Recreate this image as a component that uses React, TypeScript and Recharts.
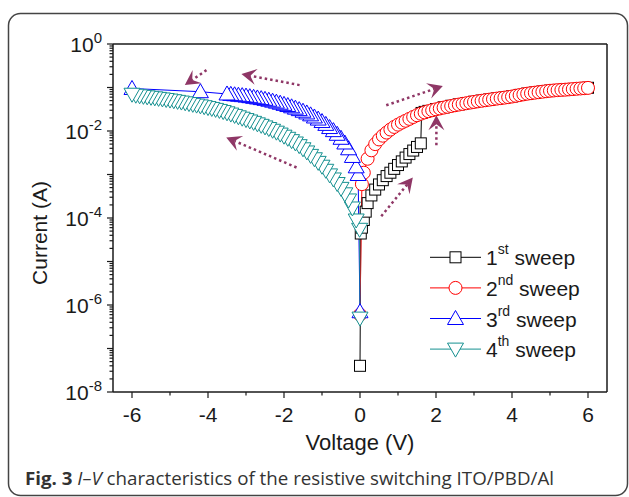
import React from "react";
import { LineChart, Line, XAxis, YAxis, ReferenceLine } from "recharts";

type Pt = [number, number];

// [voltage (V), current (A)]
const sweep1: Pt[] = [
  [0, 4e-8], [0.02, 4.4e-5], [0.05, 6e-5], [0.1, 9e-5], [0.15, 1.4e-4],
  [0.2, 2.2e-4], [0.3, 3.3e-4], [0.4, 4.5e-4], [0.5, 5.9e-4], [0.6, 7.4e-4],
  [0.7, 9.2e-4], [0.8, 1.1e-3], [0.9, 1.35e-3], [1.0, 1.65e-3], [1.1, 2.0e-3],
  [1.2, 2.45e-3], [1.3, 2.95e-3], [1.4, 3.55e-3], [1.5, 4.3e-3], [1.6, 5.2e-3],
  [1.62, 2.6e-2], [1.7, 2.75e-2], [1.8, 2.9e-2], [2.0, 3.2e-2], [2.2, 3.5e-2],
  [2.4, 3.8e-2], [2.6, 4.1e-2], [2.8, 4.4e-2], [3.0, 4.7e-2], [3.2, 5.0e-2],
  [3.4, 5.3e-2], [3.6, 5.6e-2], [3.8, 5.9e-2], [4.0, 6.25e-2], [4.2, 6.75e-2],
  [4.4, 7.25e-2], [4.6, 7.65e-2], [4.8, 8.05e-2], [5.0, 8.45e-2], [5.2, 8.75e-2],
  [5.4, 8.95e-2], [5.6, 9.25e-2], [5.8, 9.55e-2], [6.0, 9.85e-2],
];

const sweep2: Pt[] = [
  [0, 6e-7], [0.05, 6e-4], [0.1, 1.1e-3], [0.2, 2.3e-3], [0.3, 3.6e-3],
  [0.4, 5.0e-3], [0.5, 6.4e-3], [0.6, 7.8e-3], [0.7, 9.2e-3], [0.8, 1.08e-2],
  [0.9, 1.24e-2], [1.0, 1.4e-2], [1.1, 1.56e-2], [1.2, 1.72e-2], [1.3, 1.9e-2],
  [1.4, 2.1e-2], [1.5, 2.3e-2], [1.6, 2.5e-2], [1.7, 2.68e-2], [1.8, 2.85e-2],
  [1.9, 3.0e-2], [2.0, 3.15e-2], [2.1, 3.3e-2], [2.2, 3.45e-2], [2.3, 3.6e-2],
  [2.4, 3.75e-2], [2.5, 3.9e-2], [2.6, 4.05e-2], [2.7, 4.2e-2], [2.8, 4.35e-2],
  [2.9, 4.5e-2], [3.0, 4.65e-2], [3.1, 4.8e-2], [3.2, 4.95e-2], [3.3, 5.1e-2],
  [3.4, 5.25e-2], [3.5, 5.4e-2], [3.6, 5.55e-2], [3.7, 5.7e-2], [3.8, 5.85e-2],
  [3.9, 6.0e-2], [4.0, 6.2e-2], [4.1, 6.45e-2], [4.2, 6.7e-2], [4.3, 6.95e-2],
  [4.4, 7.2e-2], [4.5, 7.4e-2], [4.6, 7.6e-2], [4.7, 7.8e-2], [4.8, 8.0e-2],
  [4.9, 8.2e-2], [5.0, 8.4e-2], [5.1, 8.55e-2], [5.2, 8.7e-2], [5.3, 8.8e-2],
  [5.4, 8.9e-2], [5.5, 9.05e-2], [5.6, 9.2e-2], [5.7, 9.35e-2], [5.8, 9.5e-2],
  [5.9, 9.65e-2], [6.0, 9.8e-2],
];

const sweep3: Pt[] = [
  [0, 7e-7], [-0.05, 1.0e-3], [-0.1, 1.5e-3], [-0.2, 2.6e-3], [-0.3, 3.9e-3],
  [-0.4, 5.3e-3], [-0.5, 6.8e-3], [-0.6, 8.4e-3], [-0.7, 1.02e-2], [-0.8, 1.2e-2],
  [-0.9, 1.42e-2], [-1.0, 1.65e-2], [-1.1, 1.88e-2], [-1.2, 2.1e-2], [-1.3, 2.35e-2],
  [-1.4, 2.6e-2], [-1.5, 2.85e-2], [-1.6, 3.1e-2], [-1.7, 3.35e-2], [-1.8, 3.6e-2],
  [-1.9, 3.85e-2], [-2.0, 4.1e-2], [-2.1, 4.35e-2], [-2.2, 4.6e-2], [-2.3, 4.85e-2],
  [-2.4, 5.1e-2], [-2.5, 5.35e-2], [-2.6, 5.55e-2], [-2.7, 5.75e-2], [-2.8, 5.95e-2],
  [-2.9, 6.15e-2], [-3.0, 6.35e-2], [-3.1, 6.5e-2], [-3.2, 6.65e-2], [-3.3, 6.8e-2],
  [-3.4, 6.95e-2], [-3.5, 7.1e-2], [-4.2, 8.0e-2], [-6.0, 9.5e-2],
];

const sweep4: Pt[] = [
  [0, 5e-7], [-0.01, 5.5e-5], [-0.1, 9e-5], [-0.2, 1.7e-4], [-0.3, 2.6e-4],
  [-0.4, 3.6e-4], [-0.5, 4.8e-4], [-0.6, 6.2e-4], [-0.7, 7.9e-4], [-0.8, 9.8e-4],
  [-0.9, 1.25e-3], [-1.0, 1.55e-3], [-1.1, 1.9e-3], [-1.2, 2.3e-3], [-1.3, 2.75e-3],
  [-1.4, 3.3e-3], [-1.5, 3.9e-3], [-1.6, 4.6e-3], [-1.7, 5.3e-3], [-1.8, 6.0e-3],
  [-1.9, 6.8e-3], [-2.0, 7.6e-3], [-2.1, 8.5e-3], [-2.2, 9.4e-3], [-2.3, 1.04e-2],
  [-2.4, 1.14e-2], [-2.5, 1.24e-2], [-2.6, 1.35e-2], [-2.7, 1.46e-2], [-2.8, 1.58e-2],
  [-2.9, 1.7e-2], [-3.0, 1.83e-2], [-3.1, 1.97e-2], [-3.2, 2.12e-2], [-3.3, 2.28e-2],
  [-3.4, 2.45e-2], [-3.5, 2.62e-2], [-3.6, 2.8e-2], [-3.7, 2.97e-2], [-3.8, 3.14e-2],
  [-3.9, 3.3e-2], [-4.0, 3.46e-2], [-4.1, 3.62e-2], [-4.2, 3.78e-2], [-4.3, 3.94e-2],
  [-4.4, 4.1e-2], [-4.5, 4.27e-2], [-4.6, 4.45e-2], [-4.7, 4.63e-2], [-4.8, 4.8e-2],
  [-4.9, 4.97e-2], [-5.0, 5.14e-2], [-5.1, 5.3e-2], [-5.2, 5.46e-2], [-5.3, 5.62e-2],
  [-5.4, 5.78e-2], [-5.5, 5.94e-2], [-5.6, 6.1e-2], [-5.7, 6.26e-2], [-5.8, 6.45e-2],
  [-5.9, 6.65e-2], [-6.0, 7.0e-2],
];

// dotted direction arrows, [V, A] from -> to
const arrows: { from: Pt; to: Pt }[] = [
  { from: [-4.04, 0.251], to: [-4.61, 0.1135] },
  { from: [-1.59, 0.1135], to: [-3.12, 0.204] },
  { from: [-1.67, 1.45e-3], to: [-3.52, 7.1e-3] },
  { from: [0.69, 0.039], to: [2.18, 0.108] },
  { from: [2.01, 4.7e-3], to: [2.01, 0.023] },
  { from: [0.56, 1.1e-4], to: [1.39, 8.5e-4] },
];

const sweeps = [
  { key: "s1", num: "1", sup: "st", color: "#000000", marker: "square", data: sweep1 },
  { key: "s2", num: "2", sup: "nd", color: "#ff0000", marker: "circle", data: sweep2 },
  { key: "s3", num: "3", sup: "rd", color: "#0000ff", marker: "up", data: sweep3 },
  { key: "s4", num: "4", sup: "th", color: "#159090", marker: "down", data: sweep4 },
];

const xTicks = [-6, -5, -4, -3, -2, -1, 0, 1, 2, 3, 4, 5, 6];
const xTickLabels = [-6, -4, -2, 0, 2, 4, 6];
const yDecades = [-8, -7, -6, -5, -4, -3, -2, -1, 0];
const yTickLabels = [-8, -6, -4, -2, 0];

const yTicks: number[] = [];
yDecades.forEach((d) => {
  yTicks.push(Math.pow(10, d));
  if (d < 0) for (let m = 2; m <= 9; m++) yTicks.push(m * Math.pow(10, d));
});

const FONT = "'Liberation Sans', Arial, Helvetica, sans-serif";
const AXIS = "#1a1a1a";
const ARROW = "#8f3766";

function Marker({ kind, cx, cy, color }: { kind: string; cx: number; cy: number; color: string }) {
  const common = { fill: "#ffffff", stroke: color, strokeWidth: 1 };
  if (kind === "square") return <rect x={cx - 5.5} y={cy - 5.5} width={11} height={11} {...common} />;
  if (kind === "circle") return <circle cx={cx} cy={cy} r={6.5} {...common} />;
  if (kind === "up")
    return <polygon points={`${cx},${cy - 8} ${cx + 8},${cy + 6} ${cx - 8},${cy + 6}`} {...common} />;
  return <polygon points={`${cx - 8},${cy - 6} ${cx + 8},${cy - 6} ${cx},${cy + 8}`} {...common} />;
}

const YTick = (props: any) => {
  const { x, y, payload } = props;
  const lg = Math.log10(payload.value);
  const r = Math.round(lg);
  const major = Math.abs(lg - r) < 1e-6;
  const len = major ? 6 : 3.5;
  return (
    <g>
      <line x1={x} x2={x - len} y1={y} y2={y} stroke={AXIS} strokeWidth={1.2} />
      {major && yTickLabels.includes(r) && (
        <text x={x - 11} y={y + 8} textAnchor="end" fontFamily={FONT} fontSize={21} fill={AXIS}>
          <tspan>10</tspan>
          <tspan dy={-9} fontSize={15}>
            {String(r)}
          </tspan>
        </text>
      )}
    </g>
  );
};

const XTick = (props: any) => {
  const { x, y, payload } = props;
  const v = payload.value;
  const major = xTickLabels.includes(v);
  return (
    <g>
      <line x1={x} x2={x} y1={y} y2={y + (major ? 6 : 3.5)} stroke={AXIS} strokeWidth={1.2} />
      {major && (
        <text x={x} y={y + 30} textAnchor="middle" fontFamily={FONT} fontSize={21} fill={AXIS}>
          {String(v)}
        </text>
      )}
    </g>
  );
};

const ArrowShape = (props: any) => {
  const { x1, y1, x2, y2 } = props;
  const dx = x2 - x1;
  const dy = y2 - y1;
  const L = Math.hypot(dx, dy) || 1;
  const ux = dx / L;
  const uy = dy / L;
  const nx = -uy;
  const ny = ux;
  const head = 15;
  const hw = 8;
  const bx = x2 - ux * head;
  const by = y2 - uy * head;
  const kx = x2 - ux * head * 0.6;
  const ky = y2 - uy * head * 0.6;
  return (
    <g>
      <line
        x1={x1}
        y1={y1}
        x2={kx}
        y2={ky}
        stroke={ARROW}
        strokeWidth={2.5}
        strokeDasharray="2.5 3"
      />
      <polygon
        points={`${x2},${y2} ${bx + nx * hw},${by + ny * hw} ${kx},${ky} ${bx - nx * hw},${by - ny * hw}`}
        fill={ARROW}
      />
    </g>
  );
};

export default function App() {
  const series = sweeps.map((s) => ({ ...s, rows: s.data.map(([v, i]) => ({ v, i })) }));
  return (
    <div style={{ position: "absolute", left: 0, top: 0, width: 629, height: 497, background: "#fff" }}>
      <LineChart width={629} height={497} margin={{ top: 44, right: 22, bottom: 0, left: 0 }}>
        <XAxis
          dataKey="v"
          type="number"
          domain={[-6.5, 6.5]}
          allowDataOverflow
          ticks={xTicks}
          interval={0}
          height={105}
          tickSize={0}
          tickMargin={0}
          tickLine={false}
          tick={<XTick />}
          axisLine={{ stroke: AXIS, strokeWidth: 1.5 }}
        />
        <YAxis
          type="number"
          scale="log"
          domain={[1e-8, 1]}
          allowDataOverflow
          ticks={yTicks}
          interval={0}
          width={113}
          tickSize={0}
          tickMargin={0}
          tickLine={false}
          tick={<YTick />}
          axisLine={{ stroke: AXIS, strokeWidth: 1.5 }}
        />
        <ReferenceLine y={1} stroke={AXIS} strokeWidth={1.5} ifOverflow="visible" />
        <ReferenceLine x={6.5} stroke={AXIS} strokeWidth={1.5} ifOverflow="visible" />
        {series.map((s) => (
          <Line
            key={s.key}
            data={s.rows}
            dataKey="i"
            type="linear"
            stroke={s.color}
            strokeWidth={1}
            isAnimationActive={false}
            activeDot={false}
            dot={(p: any) => (
              <Marker key={`${s.key}-${p.index}`} kind={s.marker} cx={p.cx} cy={p.cy} color={s.color} />
            )}
          />
        ))}
        {arrows.map((a, k) => (
          <ReferenceLine
            key={`arrow-${k}`}
            segment={[
              { x: a.from[0], y: a.from[1] },
              { x: a.to[0], y: a.to[1] },
            ]}
            shape={ArrowShape}
            ifOverflow="visible"
          />
        ))}
      </LineChart>
      <svg
        width={629}
        height={497}
        style={{ position: "absolute", left: 0, top: 0, pointerEvents: "none" }}
      >
        <rect x={8.5} y={13.5} width={619} height={482} rx={12} fill="none" stroke="#444" strokeWidth={1.5} />
        <text
          transform="translate(47,233) rotate(-90)"
          textAnchor="middle"
          fontFamily={FONT}
          fontSize={21}
          fill={AXIS}
        >
          Current (A)
        </text>
        <text x={360} y={450} textAnchor="middle" fontFamily={FONT} fontSize={22} fill={AXIS}>
          Voltage (V)
        </text>
        {sweeps.map((s, k) => {
          const cy = 257.3 + k * 30.6;
          return (
            <g key={`leg-${s.key}`}>
              <line x1={430} x2={481} y1={cy} y2={cy} stroke={s.color} strokeWidth={1} />
              <Marker kind={s.marker} cx={455.5} cy={cy} color={s.color} />
              <text x={486} y={cy + 8} fontFamily={FONT} fontSize={21} fill={AXIS}>
                <tspan>{s.num}</tspan>
                <tspan dy={-11} fontSize={14}>
                  {s.sup}
                </tspan>
                <tspan dy={11}> sweep</tspan>
              </text>
            </g>
          );
        })}
        <text
          x={25}
          y={485}
          fontFamily="'Open Sans', 'Noto Sans', sans-serif"
          fontSize={17.5}
          fill="#333"
          textLength={529}
          lengthAdjust="spacingAndGlyphs"
        >
          <tspan fontWeight="bold">Fig. 3</tspan>
          <tspan> </tspan>
          <tspan fontStyle="italic">I–V</tspan>
          <tspan> characteristics of the resistive switching ITO/PBD/Al</tspan>
        </text>
      </svg>
    </div>
  );
}
